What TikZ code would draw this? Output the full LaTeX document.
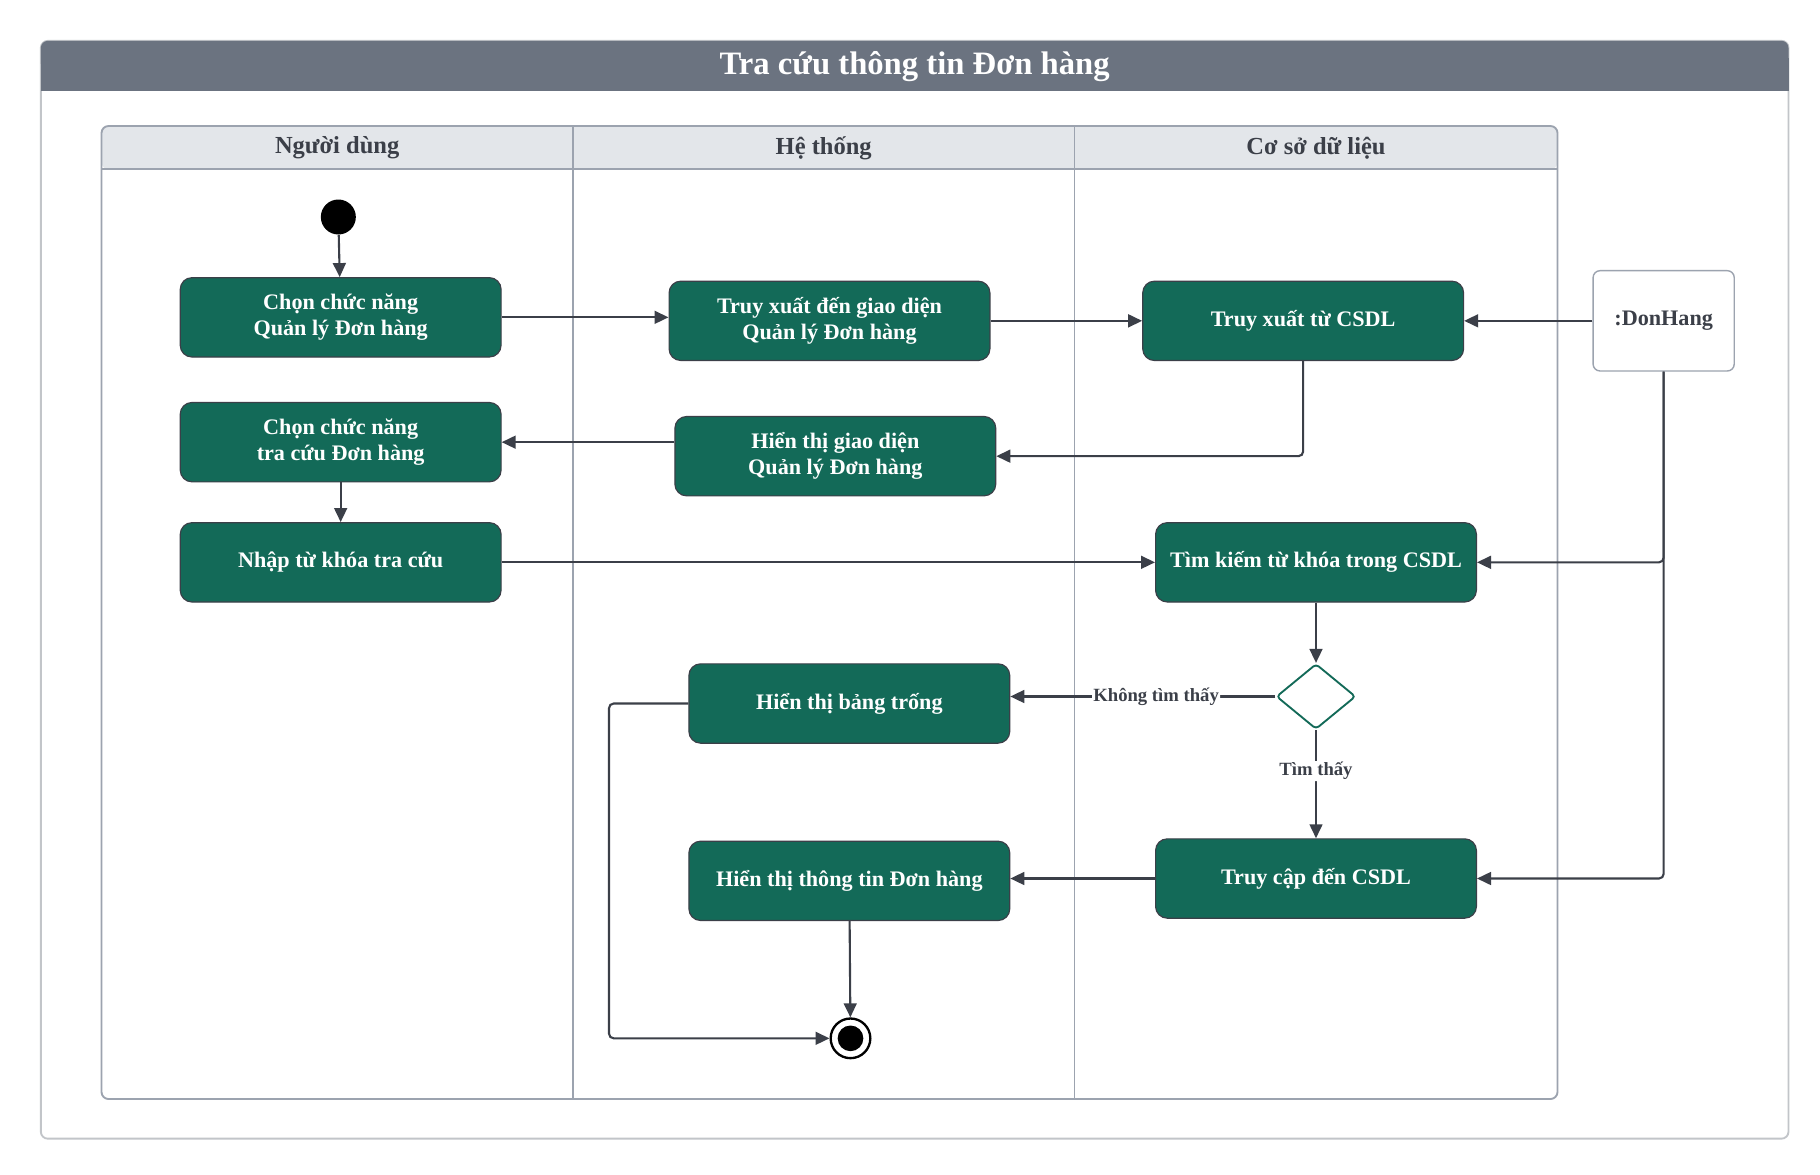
\documentclass[tikz,border=0pt]{standalone}
\usepackage{fontspec}
\setmainfont{Liberation Serif}
\usetikzlibrary{arrows.meta,shapes.geometric}
\definecolor{actc}{HTML}{136A58}
\definecolor{edgec}{HTML}{3B3F48}
\definecolor{lanec}{HTML}{9CA3AF}
\definecolor{headc}{HTML}{E3E6EA}
\definecolor{titlec}{HTML}{6B7380}
\definecolor{framec}{HTML}{C2C5C9}

\begin{document}
\begin{tikzpicture}[x=0.5pt, y=-0.5pt,
    act/.style={rectangle, rounded corners=5pt, draw=edgec, line width=0.5pt, fill=actc, text=white, font=\fontsize{9.5}{11}\selectfont\bfseries, align=center, minimum width=137.5pt, minimum height=34pt},
    obj/.style={rectangle, rounded corners=3pt, draw=lanec, line width=0.6pt, fill=white, text=edgec, font=\fontsize{9.5}{11}\selectfont\bfseries, minimum width=60.5pt, minimum height=43pt},
    decide/.style={diamond, draw=actc, line width=0.8pt, fill=white, rounded corners=1.5pt, minimum width=34pt, minimum height=28pt, inner sep=0pt},
    startnode/.style={circle, fill=black, minimum size=15pt, inner sep=0pt},
    endnode/.style={circle, draw=black, line width=1pt, fill=white, minimum size=17pt, inner sep=0pt, path picture={\fill[black] (path picture bounding box.center) circle (5.5pt);}},
    lanehead/.style={text=edgec, font=\fontsize{10.5}{12}\selectfont\bfseries},
    flow/.style={-{Triangle[length=6pt, width=5.5pt]}, draw=edgec, line width=0.9pt, rounded corners=2pt},
    lbl/.style={fill=white, text=edgec, font=\fontsize{8}{9}\selectfont\bfseries, inner sep=0.5pt}]

    \useasboundingbox (0,0) rectangle (1560,1007);

    % khung va tieu de
    \draw[framec, line width=0.8pt, fill=white, rounded corners=3pt] (35,35) rectangle (1533,976);
    \fill[titlec, rounded corners=3pt] (35,35) rectangle (1533,60);
    \fill[titlec] (35,50) rectangle (1533,78);
    \node[text=white, font=\fontsize{14}{16}\selectfont\bfseries] (tieude) at (784,57) {Tra cứu thông tin Đơn hàng};

    % cac lan
    \fill[headc, rounded corners=3pt] (87,108) rectangle (1335,145);
    \draw[lanec, line width=0.8pt, rounded corners=3pt] (87,108) rectangle (1335,942);
    \draw[lanec, line width=0.8pt] (87,145) -- (1335,145);
    \draw[lanec, line width=0.8pt] (491,108) -- (491,942);
    \draw[lanec, line width=0.8pt] (921,108) -- (921,942);
    \node[lanehead] (lan1) at (289,127) {Người dùng};
    \node[lanehead] (lan2) at (706,127) {Hệ thống};
    \node[lanehead] (lan3) at (1128,127) {Cơ sở dữ liệu};

    % cac node
    \node[startnode] (batdau) at (290,186) {};
    \node[act] (chon1) at (292,272) {Chọn chức năng\\Quản lý Đơn hàng};
    \node[act] (truyxuat) at (711,275) {Truy xuất đến giao diện\\Quản lý Đơn hàng};
    \node[act] (truyxuatcsdl) at (1117,275) {Truy xuất từ CSDL};
    \node[obj] (donhang) at (1426,275) {:DonHang};
    \node[act] (chon2) at (292,379) {Chọn chức năng\\tra cứu Đơn hàng};
    \node[act] (hienthi) at (716,391) {Hiển thị giao diện\\Quản lý Đơn hàng};
    \node[act] (nhap) at (292,482) {Nhập từ khóa tra cứu};
    \node[act] (timkiem) at (1128,482) {Tìm kiếm từ khóa trong CSDL};
    \node[decide] (quyetdinh) at (1128,597) {};
    \node[act] (bangtrong) at (728,603) {Hiển thị bảng trống};
    \node[act] (truycap) at (1128,753) {Truy cập đến CSDL};
    \node[act] (thongtin) at (728,755) {Hiển thị thông tin Đơn hàng};
    \node[endnode] (ketthuc) at (729,890) {};
    \coordinate (vong) at (522,890);

    % cac luong
    \draw[flow] (batdau) -- (chon1);
    \draw[flow] (chon1.east) -- (chon1.east -| truyxuat.west);
    \draw[flow] (truyxuat) -- (truyxuatcsdl);
    \draw[flow] (donhang) -- (truyxuatcsdl);
    \draw[flow] (truyxuatcsdl.south) |- (hienthi.east);
    \draw[flow] (hienthi.west |- chon2) -- (chon2.east);
    \draw[flow] (chon2) -- (nhap);
    \draw[flow] (nhap) -- (timkiem);
    \draw[flow] (donhang.south) |- (timkiem.east);
    \draw[flow] (donhang.south) |- (truycap.east);
    \draw[flow] (timkiem) -- (quyetdinh);
    \draw[flow] (quyetdinh) -- node[lbl, pos=0.45] {Không tìm thấy} (quyetdinh -| bangtrong.east);
    \draw[flow] (quyetdinh) -- node[lbl, pos=0.38] {Tìm thấy} (truycap);
    \draw[flow] (truycap.west) -- (truycap.west -| thongtin.east);
    \draw[flow] (thongtin) -- (ketthuc);
    \draw[flow] (bangtrong.west) -| (vong) -- (ketthuc);

\end{tikzpicture}
\end{document}
